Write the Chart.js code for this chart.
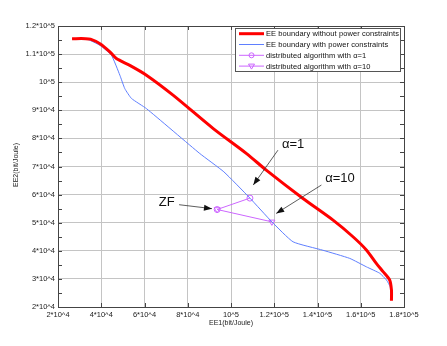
<!DOCTYPE html>
<html>
<head>
<meta charset="utf-8">
<script src="https://cdn.jsdelivr.net/npm/chart.js@4.4.1/dist/chart.umd.min.js"></script>
<style>
  html, body { margin: 0; padding: 0; background: #fff; }
  #wrap { width: 447px; height: 346px; }
</style>
</head>
<body>
<div id="wrap"><canvas id="eeChart" width="447" height="346"></canvas></div>
<script>
// EE boundary without power constraints
const redX = [26500, 32800, 35000, 39400, 44000, 47000, 53200, 60900, 73200, 91800, 107200, 116300, 133300, 147200, 156400, 162600, 167200, 170300, 173400, 174200, 174200];
const redY = [115500, 115500, 115300, 113700, 110800, 108400, 106000, 102500, 95400, 83500, 74600, 68700, 58600, 50900, 45000, 40300, 35500, 32600, 29600, 26000, 22200];

// EE boundary with power constraints
const blueX = [26500, 32800, 39400, 44700, 48600, 50900, 54000, 60900, 85600, 96700, 108750, 118900, 128700, 142500, 154900, 162600, 168800, 171900, 173600, 174200];
const blueY = [115500, 115500, 113100, 109600, 102500, 97700, 94200, 90600, 74600, 68100, 58750, 50300, 43200, 40200, 37300, 34300, 32000, 29600, 27200, 22500];

// distributed algorithm (ZF start -> converged point)
const alpha1X = [93600, 108750];
const alpha1Y = [54700, 58750];
const alpha10X = [93600, 118900];
const alpha10Y = [54700, 50300];

const xTicks = [20000, 40000, 60000, 80000, 100000, 120000, 140000, 160000, 180000];

// text labels with arrows: [text, textX, textY, arrow from x,y, arrow to x,y]
const notes = [
  ['ZF', 70300, 57300, 76000, 56400, 91200, 55000],
  ['\u03b1=1', 128700, 78000, 121700, 75800, 110300, 63400],
  ['\u03b1=10', 150400, 65800, 141800, 63400, 120900, 53300]
];

const FONT = '"Liberation Sans", Arial, Helvetica, sans-serif';
const PINK = '#cc66ff';

function pts(xs, ys) {
  return xs.map((x, i) => ({ x: x, y: ys[i] }));
}

function fmt(v) {
  if (v === 100000) return '10^5';
  if (v < 100000) return (v / 10000) + '*10^4';
  return (+(v / 100000).toFixed(1)) + '*10^5';
}

function arrow(ctx, x1, y1, x2, y2) {
  const a = Math.atan2(y2 - y1, x2 - x1);
  ctx.beginPath();
  ctx.moveTo(x1, y1);
  ctx.lineTo(x2, y2);
  ctx.stroke();
  ctx.beginPath();
  ctx.moveTo(x2, y2);
  ctx.lineTo(x2 - 8 * Math.cos(a) + 3 * Math.sin(a), y2 - 8 * Math.sin(a) - 3 * Math.cos(a));
  ctx.lineTo(x2 - 8 * Math.cos(a) - 3 * Math.sin(a), y2 - 8 * Math.sin(a) + 3 * Math.cos(a));
  ctx.closePath();
  ctx.fill();
}

// frame, inward ticks, axis titles, notes and legend
const overlay = {
  id: 'overlay',
  afterDatasetsDraw(chart) {
    const ctx = chart.ctx;
    const { left, right, top, bottom } = chart.chartArea;
    const xs = chart.scales.x, ys = chart.scales.y;
    ctx.save();

    ctx.strokeStyle = '#444';
    ctx.lineWidth = 1;
    ctx.strokeRect(Math.round(left) + 0.5, Math.round(top) + 0.5, Math.round(right - left), Math.round(bottom - top));
    ctx.beginPath();
    xTicks.forEach(v => {
      const p = Math.round(xs.getPixelForValue(v)) + 0.5;
      ctx.moveTo(p, bottom); ctx.lineTo(p, bottom - 4);
      ctx.moveTo(p, top); ctx.lineTo(p, top + 4);
    });
    for (let v = 20000; v <= 120000; v += 5000) {
      const p = Math.round(ys.getPixelForValue(v)) + 0.5;
      ctx.moveTo(left, p); ctx.lineTo(left + 4, p);
      ctx.moveTo(right, p); ctx.lineTo(right - 4, p);
    }
    ctx.stroke();

    // axis titles
    ctx.fillStyle = '#222';
    ctx.font = '7px ' + FONT;
    ctx.textAlign = 'center';
    ctx.textBaseline = 'middle';
    ctx.fillText('EE1(bit/Joule)', (left + right) / 2, 323);
    ctx.save();
    ctx.translate(16, 165);
    ctx.rotate(-Math.PI / 2);
    ctx.fillText('EE2(bit/Joule)', 0, 0);
    ctx.restore();

    // notes with arrows
    ctx.strokeStyle = '#333';
    ctx.fillStyle = '#111';
    ctx.lineWidth = 0.8;
    notes.forEach(n => {
      ctx.font = '13px ' + FONT;
      ctx.fillText(n[0], xs.getPixelForValue(n[1]), ys.getPixelForValue(n[2]));
      arrow(ctx, xs.getPixelForValue(n[3]), ys.getPixelForValue(n[4]),
        xs.getPixelForValue(n[5]), ys.getPixelForValue(n[6]));
    });

    // legend box
    const lx = 235.5, ly = 28.5, lw = 165, lh = 43;
    ctx.fillStyle = '#fff';
    ctx.fillRect(lx, ly, lw, lh);
    ctx.strokeStyle = '#555';
    ctx.lineWidth = 1;
    ctx.strokeRect(lx, ly, lw, lh);
    ctx.font = '7.5px ' + FONT;
    ctx.textAlign = 'left';
    const w0 = ctx.measureText(chart.data.datasets[0].label).width;
    ctx.letterSpacing = Math.max(0, (133 - w0) / 36).toFixed(2) + 'px';
    chart.data.datasets.forEach((ds, i) => {
      const y = 33.7 + i * 10.8;
      ctx.strokeStyle = ds.borderColor;
      ctx.lineWidth = ds.borderWidth;
      ctx.beginPath();
      ctx.moveTo(239, y); ctx.lineTo(264, y);
      ctx.stroke();
      if (ds.pointRadius > 0) {
        ctx.lineWidth = 1;
        ctx.beginPath();
        if (ds.pointStyle === 'circle') {
          ctx.arc(251.5, y, 2.5, 0, Math.PI * 2);
        } else {
          ctx.moveTo(248.5, y - 2); ctx.lineTo(254.5, y - 2); ctx.lineTo(251.5, y + 3); ctx.closePath();
        }
        ctx.stroke();
      }
      ctx.fillStyle = '#111';
      ctx.fillText(ds.label, 266, y + 0.5);
    });
    ctx.restore();
  }
};

new Chart(document.getElementById('eeChart').getContext('2d'), {
  type: 'line',
  data: {
    datasets: [{
      label: 'EE boundary without power constraints',
      data: pts(redX, redY),
      borderColor: '#ff0000',
      borderWidth: 3,
      pointRadius: 0,
      tension: 0.25
    }, {
      label: 'EE boundary with power constraints',
      data: pts(blueX, blueY),
      borderColor: '#5f7fff',
      borderWidth: 1,
      pointRadius: 0,
      tension: 0.15
    }, {
      label: 'distributed algorithm with \u03b1=1',
      data: pts(alpha1X, alpha1Y),
      borderColor: PINK,
      borderWidth: 1,
      pointStyle: 'circle',
      pointRadius: 3,
      pointBorderWidth: 1,
      pointBackgroundColor: 'transparent',
      pointBorderColor: PINK
    }, {
      label: 'distributed algorithm with \u03b1=10',
      data: pts(alpha10X, alpha10Y),
      borderColor: PINK,
      borderWidth: 1,
      pointStyle: 'triangle',
      pointRotation: 180,
      pointRadius: 3.5,
      pointBorderWidth: 1,
      pointBackgroundColor: 'transparent',
      pointBorderColor: PINK
    }]
  },
  options: {
    responsive: false,
    animation: false,
    layout: { padding: { left: 0, top: 26, right: 43, bottom: 0 } },
    plugins: {
      legend: { display: false },
      tooltip: { enabled: false }
    },
    scales: {
      x: {
        type: 'linear',
        min: 20000,
        max: 180000,
        afterBuildTicks: s => { s.ticks = xTicks.map(v => ({ value: v })); },
        afterFit: s => { s.height = 39; },
        border: { display: false },
        grid: { color: '#c4c4c4', borderDash: [1, 2], drawTicks: false, lineWidth: 1 },
        ticks: {
          padding: 3,
          color: '#222',
          font: { family: FONT, size: 7.5 },
          maxRotation: 0,
          callback: v => fmt(v)
        }
      },
      y: {
        type: 'linear',
        min: 20000,
        max: 120000,
        afterFit: s => { s.width = 58; },
        border: { display: false },
        grid: {
          color: c => (c.tick && c.tick.value % 10000 === 0 ? '#c4c4c4' : 'rgba(0,0,0,0)'),
          borderDash: [1, 2],
          drawTicks: false,
          lineWidth: 1
        },
        ticks: {
          stepSize: 5000,
          autoSkip: false,
          padding: 3,
          color: '#222',
          font: { family: FONT, size: 7.5 },
          callback: v => (v % 10000 === 0 ? fmt(v) : '')
        }
      }
    }
  },
  plugins: [overlay]
});
</script>
</body>
</html>
